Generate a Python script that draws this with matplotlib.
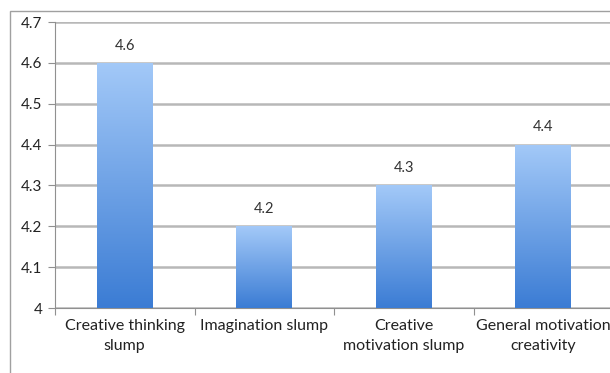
import numpy as np
import matplotlib.pyplot as plt
from matplotlib.patches import Rectangle
from matplotlib.colors import LinearSegmentedColormap

categories = ["Creative thinking\nslump", "Imagination slump",
              "Creative\nmotivation slump", "General motivation\ncreativity"]
values = [4.6, 4.2, 4.3, 4.4]
yticks = [4, 4.1, 4.2, 4.3, 4.4, 4.5, 4.6, 4.7]
ylabels = ["4", "4.1", "4.2", "4.3", "4.4", "4.5", "4.6", "4.7"]

plt.rcParams['font.family'] = ['Lato', 'DejaVu Sans']

W, H = 610, 373
fig = plt.figure(figsize=(W / 100, H / 100), dpi=100)

# outer chart border (cropped on right/bottom)
fig.patches.append(Rectangle((10 / W, -0.1), 1.2, 1 - 11 / H + 0.1,
                             transform=fig.transFigure, fill=False,
                             edgecolor='#a0a0a0', lw=1.0))

ax = fig.add_axes([55 / W, 65 / H, 558 / W, 286 / H])
x = np.arange(len(values))
bars = ax.bar(x, np.array(values) - 4, bottom=4, width=0.4, color='none', zorder=3)

# vertical gradient fill, light at top
grad = np.linspace(0, 1, 256).reshape(-1, 1)
cmap = LinearSegmentedColormap.from_list('g', ['#3b7cd4', '#a3c9f8'])
for b in bars:
    x0, y0 = b.get_x(), b.get_y()
    im = ax.imshow(grad, cmap=cmap, origin='lower', aspect='auto',
                   extent=[x0, x0 + b.get_width(), y0, y0 + b.get_height()], zorder=3)
    im.set_clip_path(b)

for xi, v in zip(x, values):
    ax.text(xi, v + 0.025, f"{v}", ha='center', va='bottom', fontsize=10.5, color='#333333')

ax.set_xlim(-0.5, 3.5)
ax.set_ylim(4, 4.7)
ax.set_yticks(yticks)
ax.set_yticklabels(ylabels)
ax.set_xticks(np.arange(-0.5, 4.0, 1.0))
ax.set_xticklabels([])
ax.set_xticks(x, minor=True)
ax.set_xticklabels(categories, minor=True, fontsize=11.5, color='#222222', linespacing=1.5)
ax.tick_params(axis='x', which='minor', length=0, pad=8)
ax.tick_params(axis='x', which='major', length=5, color='#909090', direction='out')
ax.tick_params(axis='y', length=5, color='#909090', labelsize=11, labelcolor='#222222', pad=4)
ax.grid(axis='y', color='#b8b8b8', lw=1.8, zorder=1)
ax.set_axisbelow(True)
for s in ['top', 'right']:
    ax.spines[s].set_visible(False)
ax.spines['left'].set_color('#909090')
ax.spines['bottom'].set_color('#909090')

fig.savefig('out.png', dpi=100)
